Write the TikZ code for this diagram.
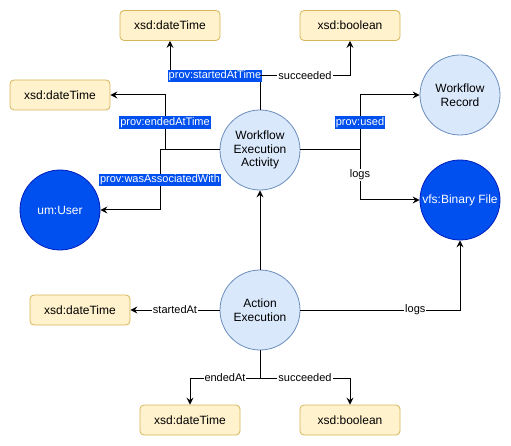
\documentclass[tikz,border=0pt]{standalone}
\usepackage{fontspec}
\setmainfont{Liberation Sans}
\usetikzlibrary{arrows.meta}
\definecolor{lightfill}{HTML}{DAE8FC}
\definecolor{lightline}{HTML}{6C8EBF}
\definecolor{boxfill}{HTML}{FFF2CC}
\definecolor{boxline}{HTML}{D6B656}
\definecolor{darkfill}{HTML}{0050EF}
\definecolor{darkline}{HTML}{001DBC}
\begin{document}
\begin{tikzpicture}[x=1pt,y=-1pt,
  lightnode/.style={circle,draw=lightline,fill=lightfill,line width=0.8pt,
    minimum size=80pt,inner sep=0pt,align=center,
    font=\fontsize{12}{13.5}\selectfont},
  darknode/.style={circle,draw=darkline,fill=darkfill,line width=0.8pt,
    minimum size=80pt,inner sep=0pt,align=center,text=white,
    font=\fontsize{12}{13.5}\selectfont},
  typebox/.style={rectangle,rounded corners=4pt,draw=boxline,fill=boxfill,
    line width=0.8pt,minimum width=100pt,minimum height=30pt,inner sep=0pt,
    font=\fontsize{12}{14}\selectfont},
  link/.style={line width=1pt,draw=black},
  arr/.style={link,-{Stealth[length=7pt,width=7pt,inset=2.5pt]}},
  plainlabel/.style={fill=white,inner sep=1pt,font=\fontsize{11}{12}\selectfont},
  bluelabel/.style={fill=darkfill,text=white,inner sep=1pt,
    font=\fontsize{11}{12}\selectfont}]
\useasboundingbox (0,0) rectangle (511,446);

% nodes
\node[lightnode] (wea) at (260,150) {Workflow\\Execution\\Activity};
\node[lightnode] (rec) at (460,95) {Workflow\\Record};
\node[lightnode] (ae)  at (260,310) {Action\\Execution};
\node[darknode]  (usr) at (60,210) {um:User};
\node[darknode]  (vfs) at (460,200) {vfs:Binary File};

\node[typebox] (dtTop)   at (170,25.5) {xsd:dateTime};
\node[typebox] (boolTop) at (350,25.5) {xsd:boolean};
\node[typebox] (dtLeft)  at (60,95)    {xsd:dateTime};
\node[typebox] (dtAct)   at (80,310)   {xsd:dateTime};
\node[typebox] (dtBot)   at (190,420)  {xsd:dateTime};
\node[typebox] (boolBot) at (350,420)  {xsd:boolean};

% branch points
\coordinate (jTop)   at (260,76);
\coordinate (jEnd)   at (165,150);
\coordinate (jAssoc) at (160,150);
\coordinate (jRight) at (360,150);
\coordinate (jBot)   at (260,378);

% workflow execution activity links
\draw[link] (wea.north) -- (jTop);
\draw[arr] (jTop) -| node[pos=0.25,bluelabel] {prov:startedAtTime} (dtTop.south);
\draw[arr] (jTop) -| node[pos=0.25,plainlabel] {succeeded} (boolTop.south);

\draw[link] (wea.west) -- (jEnd);
\draw[arr] (jEnd) |- node[pos=0.25,bluelabel] {prov:endedAtTime} (dtLeft.east);
\draw[link] (jEnd) -- (jAssoc);
\draw[arr] (jAssoc) |- node[pos=0.25,bluelabel] {prov:wasAssociatedWith} (usr.east);

\draw[link] (wea.east) -- (jRight);
\draw[arr] (jRight) |- node[pos=0.25,bluelabel] {prov:used} (rec.west);
\draw[arr] (jRight) |- node[pos=0.25,plainlabel] {logs} (vfs.west);

% action execution links
\draw[arr] (ae.north) -- (wea.south);
\draw[arr] (ae.east) -| node[pos=0.36,plainlabel] {logs} (vfs.south);
\draw[arr] (ae.west) -- node[plainlabel] {startedAt} (dtAct.east);
\draw[link] (ae.south) -- (jBot);
\draw[arr] (jBot) -| node[pos=0.25,plainlabel] {endedAt} (dtBot.north);
\draw[arr] (jBot) -| node[pos=0.25,plainlabel] {succeeded} (boolBot.north);
\end{tikzpicture}
\end{document}
